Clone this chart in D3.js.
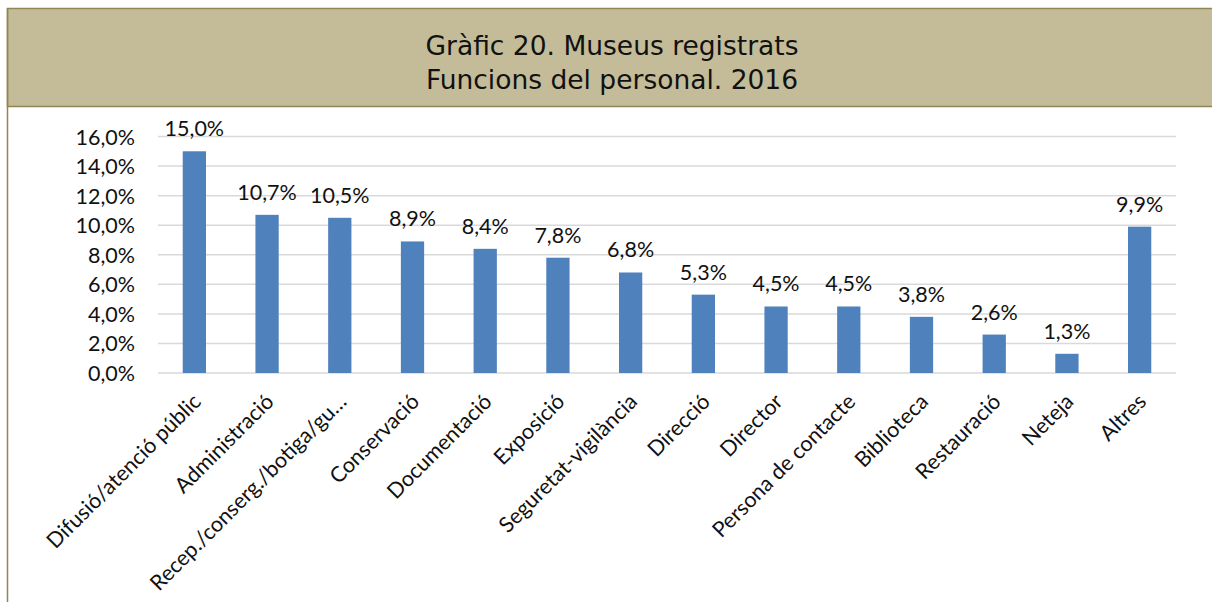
<!DOCTYPE html>
<html>
<head>
<meta charset="utf-8">
<script src="https://cdn.jsdelivr.net/npm/d3@7"></script>
<style>
  body { margin: 0; background: #fff; }
  svg { display: block; }
</style>
</head>
<body>
<div id="chart"></div>
<script>

// data
var categories = ["Difusió/atenció públic", "Administració", "Recep./conserg./botiga/gu…",
    "Conservació", "Documentació", "Exposició", "Seguretat-vigilància", "Direcció",
    "Director", "Persona de contacte", "Biblioteca", "Restauració", "Neteja", "Altres"];
var values = [15.0, 10.7, 10.5, 8.9, 8.4, 7.8, 6.8, 5.3, 4.5, 4.5, 3.8, 2.6, 1.3, 9.9];
var yTicks = [0, 2, 4, 6, 8, 10, 12, 14, 16];
var titleLines = ["Gràfic 20. Museus registrats", "Funcions del personal. 2016"];

var W = 1212, H = 602;
var plot = { left: 158, right: 1176, top: 136.5, bottom: 373 };

var fmt = function (v) { return v.toFixed(1).replace(".", ",") + "%"; };
var font = "Lato, 'Open Sans', sans-serif";
var fontSize = "21.5px";

var svg = d3.select("#chart")
    .append("svg")
    .attr("width", W)
    .attr("height", H);

// header band
svg.append("rect")
    .attr("x", 7.5).attr("y", 8.5)
    .attr("width", W).attr("height", 98)
    .attr("fill", "#c4bc98")
    .attr("stroke", "#8f8656")
    .attr("stroke-width", 1.5);

// left frame line
svg.append("line")
    .attr("x1", 7.5).attr("x2", 7.5)
    .attr("y1", 8.5).attr("y2", H)
    .attr("stroke", "#8f8656")
    .attr("stroke-width", 1.5);

svg.append("g")
    .selectAll("text")
    .data(titleLines)
    .enter()
    .append("text")
    .attr("x", 612)
    .attr("y", function (d, i) { return 55 + i * 34; })
    .attr("text-anchor", "middle")
    .style("font-family", "'DejaVu Sans', Verdana, sans-serif")
    .style("font-size", "26.5px")
    .attr("fill", "#111")
    .text(function (d) { return d; });

// scales
var x = d3.scaleBand()
    .domain(categories)
    .range([plot.left, plot.right])
    .paddingInner(0.68)
    .paddingOuter(0.34);

var y = d3.scaleLinear()
    .domain([0, 16])
    .range([plot.bottom, plot.top]);

// gridlines
svg.append("g")
    .selectAll("line")
    .data(yTicks)
    .enter()
    .append("line")
    .attr("x1", plot.left).attr("x2", plot.right)
    .attr("y1", function (d) { return y(d); })
    .attr("y2", function (d) { return y(d); })
    .attr("stroke", "#d9d9d9")
    .attr("stroke-width", 1.5);

// y axis labels
var yAxis = svg.append("g")
    .attr("transform", "translate(" + (plot.left - 23) + ",0)")
    .call(d3.axisLeft(y).tickValues(yTicks).tickFormat(fmt).tickSize(0).tickPadding(0));
yAxis.select(".domain").remove();
yAxis.selectAll("text")
    .style("font-family", font)
    .style("font-size", fontSize)
    .attr("fill", "#111")
    .attr("dy", "0.35em");

// bars
svg.append("g")
    .selectAll("rect")
    .data(values)
    .enter()
    .append("rect")
    .attr("x", function (d, i) { return x(categories[i]); })
    .attr("y", function (d) { return y(d); })
    .attr("width", x.bandwidth())
    .attr("height", function (d) { return y(0) - y(d); })
    .attr("fill", "#4f81bd");

// value labels
svg.append("g")
    .selectAll("text")
    .data(values)
    .enter()
    .append("text")
    .attr("x", function (d, i) { return x(categories[i]) + x.bandwidth() / 2; })
    .attr("y", function (d) { return y(d) - 15; })
    .attr("text-anchor", "middle")
    .style("font-family", font)
    .style("font-size", fontSize)
    .attr("fill", "#111")
    .text(fmt);

// x axis labels, rotated
var xAxis = svg.append("g")
    .attr("transform", "translate(0," + plot.bottom + ")")
    .call(d3.axisBottom(x).tickSize(0).tickPadding(0));
xAxis.select(".domain").remove();
xAxis.selectAll("text")
    .style("font-family", font)
    .style("font-size", fontSize)
    .attr("fill", "#111")
    .attr("text-anchor", "end")
    .attr("dy", null)
    .attr("y", 0)
    .attr("transform", "translate(8,30) rotate(-45)");

</script>
</body>
</html>
